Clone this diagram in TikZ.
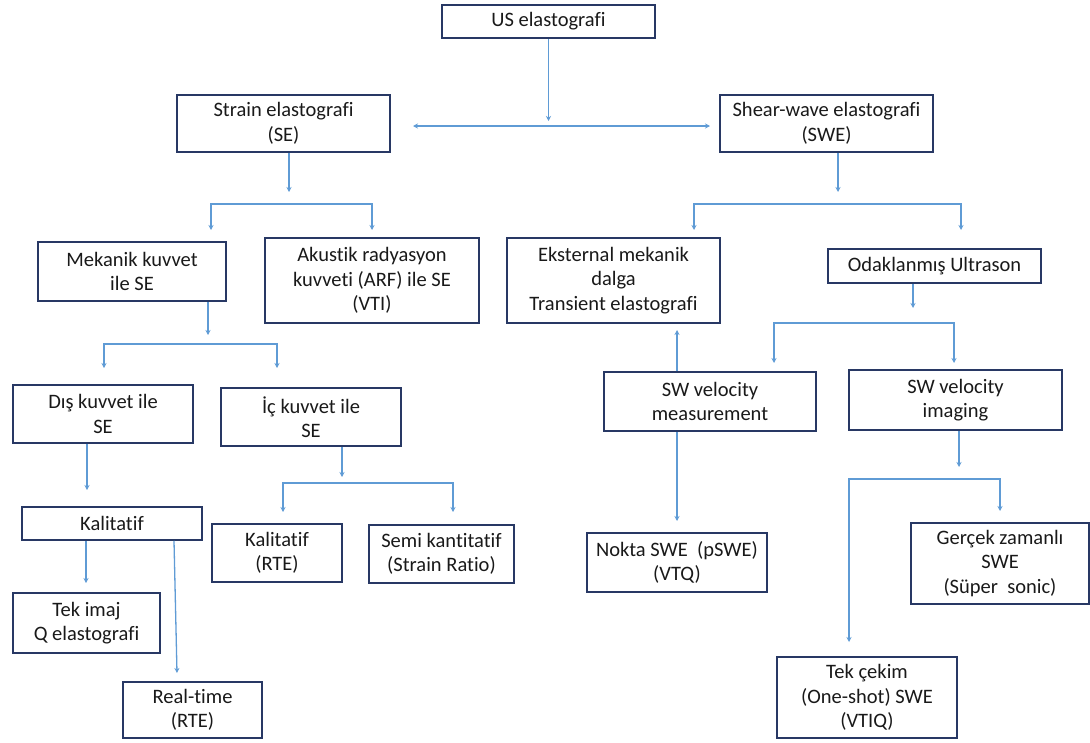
\documentclass[tikz,border=0pt]{standalone}
\usepackage{fontspec}
\setmainfont{Carlito}[Ligatures=NoCommon]
\usetikzlibrary{arrows.meta}
\definecolor{boxc}{RGB}{40,56,100}
\definecolor{linec}{RGB}{95,155,213}
\definecolor{txt}{RGB}{25,25,25}
\tikzset{
  box/.style={draw=boxc, line width=1.5pt, align=center, inner sep=0pt, text=txt,
    font=\fontsize{20.5}{24.5}\selectfont},
  con/.style={draw=linec, line width=1.3pt, -{Stealth[length=5pt,width=5pt]}},
  con2/.style={draw=linec, line width=1.3pt, {Stealth[length=5pt,width=5pt]}-{Stealth[length=5pt,width=5pt]}},
}
\begin{document}
\begin{tikzpicture}[x=1pt,y=-1pt]
\useasboundingbox (0,0) rectangle (1090,742);
% boxes
\node[box, minimum width=213pt, minimum height=33pt] (us) at (548.5,21.5) {US elastografi};
\node[box, minimum width=213pt, minimum height=57pt] (strain) at (283.5,123.5) {Strain elastografi\\(SE)};
\node[box, minimum width=213pt, minimum height=57pt] (shear) at (826.5,123.5) {Shear-wave elastografi\\(SWE)};
\node[box, minimum width=188pt, minimum height=59pt] (mek) at (132,271.5) {Mekanik kuvvet\\ile SE};
\node[box, minimum width=214pt, minimum height=85pt] (aku) at (372,280.5) {Akustik radyasyon\\kuvveti (ARF) ile SE\\(VTI)};
\node[box, minimum width=180pt, minimum height=58pt] (dis) at (103,414) {Dış kuvvet ile\\SE};
\node[box, minimum width=180pt, minimum height=58pt] (ic) at (311,417) {İç kuvvet ile\\SE};
\node[box, minimum width=180pt, minimum height=33pt] (kal1) at (112,523.5) {Kalitatif};
\node[box, minimum width=147pt, minimum height=60pt] (tek) at (86.5,623) {Tek imaj\\Q elastografi};
\node[box, minimum width=139pt, minimum height=56pt] (real) at (192.5,710) {Real-time\\(RTE)};
\node[box, minimum width=130pt, minimum height=58pt] (kal2) at (277,553) {Kalitatif\\(RTE)};
\node[box, minimum width=145pt, minimum height=58pt] (semi) at (441.5,554) {Semi kantitatif\\(Strain Ratio)};
\node[box, minimum width=213pt, minimum height=85pt] (eks) at (613.5,280.5) {Eksternal mekanik\\dalga\\Transient elastografi};
\node[box, minimum width=213pt, minimum height=34pt] (oda) at (934.5,266) {Odaklanmış Ultrason};
\node[box, minimum width=212pt, minimum height=59pt] (swm) at (710,401.5) {SW velocity\\measurement};
\node[box, minimum width=213pt, minimum height=60pt] (swi) at (955.5,400) {SW velocity\\imaging};
\node[box, minimum width=180pt, minimum height=59pt] (nok) at (677,562.5) {Nokta SWE\ \ (pSWE)\\(VTQ)};
\node[box, minimum width=178pt, minimum height=81pt] (ger) at (1000,563.5) {Gerçek zamanlı\\SWE\\(Süper\ \ sonic)};
\node[box, minimum width=180pt, minimum height=81pt] (tekc) at (867,697.5) {Tek çekim\\(One-shot) SWE\\(VTIQ)};
% coordinates
\coordinate (c1) at (548.5,121);
\coordinate (hL) at (413,126);
\coordinate (hR) at (710,126);
\coordinate (s1) at (289,192);
\coordinate (b1l) at (211,230); \coordinate (b1m) at (289,204); \coordinate (b1r) at (372,230);
\coordinate (m1) at (208,335);
\coordinate (b2l) at (104,368); \coordinate (b2m) at (208,344); \coordinate (b2r) at (277,368);
\coordinate (d1) at (87,490);
\coordinate (k1) at (86,583);
\coordinate (k2a) at (174,540); \coordinate (k2) at (177,673);
\coordinate (i1) at (342,477);
\coordinate (b3l) at (283,512); \coordinate (b3m) at (342,483); \coordinate (b3r) at (453,512);
\coordinate (h1) at (838,192);
\coordinate (b4l) at (694,230); \coordinate (b4m) at (838,204); \coordinate (b4r) at (961,230);
\coordinate (o1) at (913,308);
\coordinate (b5l) at (774,363); \coordinate (b5m) at (913,323); \coordinate (b5r) at (954,363);
\coordinate (u1) at (677,330);
\coordinate (u2) at (677,521);
\coordinate (w1) at (959,467);
\coordinate (b6l) at (849,642); \coordinate (b6m) at (959,479); \coordinate (b6r) at (1000,511);
% connectors
\draw[con] (us.south) -- (c1);
\draw[con2] (hL) -- (hR);
\draw[con] (strain.south -| s1) -- (s1);
\draw[con2] (b1l) |- (b1m) -| (b1r);
\draw[con] (mek.south -| m1) -- (m1);
\draw[con2] (b2l) |- (b2m) -| (b2r);
\draw[con] (dis.south -| d1) -- (d1);
\draw[con] (kal1.south -| k1) -- (k1);
\draw[con] (kal1.south -| k2a) -- (k2);
\draw[con] (ic.south -| i1) -- (i1);
\draw[con2] (b3l) |- (b3m) -| (b3r);
\draw[con] (shear.south -| h1) -- (h1);
\draw[con2] (b4l) |- (b4m) -| (b4r);
\draw[con] (oda.south -| o1) -- (o1);
\draw[con2] (b5l) |- (b5m) -| (b5r);
\draw[con] (swm.north -| u1) -- (u1);
\draw[con] (swm.south -| u2) -- (u2);
\draw[con] (swi.south -| w1) -- (w1);
\draw[con2] (b6l) |- (b6m) -| (b6r);
\end{tikzpicture}
\end{document}
